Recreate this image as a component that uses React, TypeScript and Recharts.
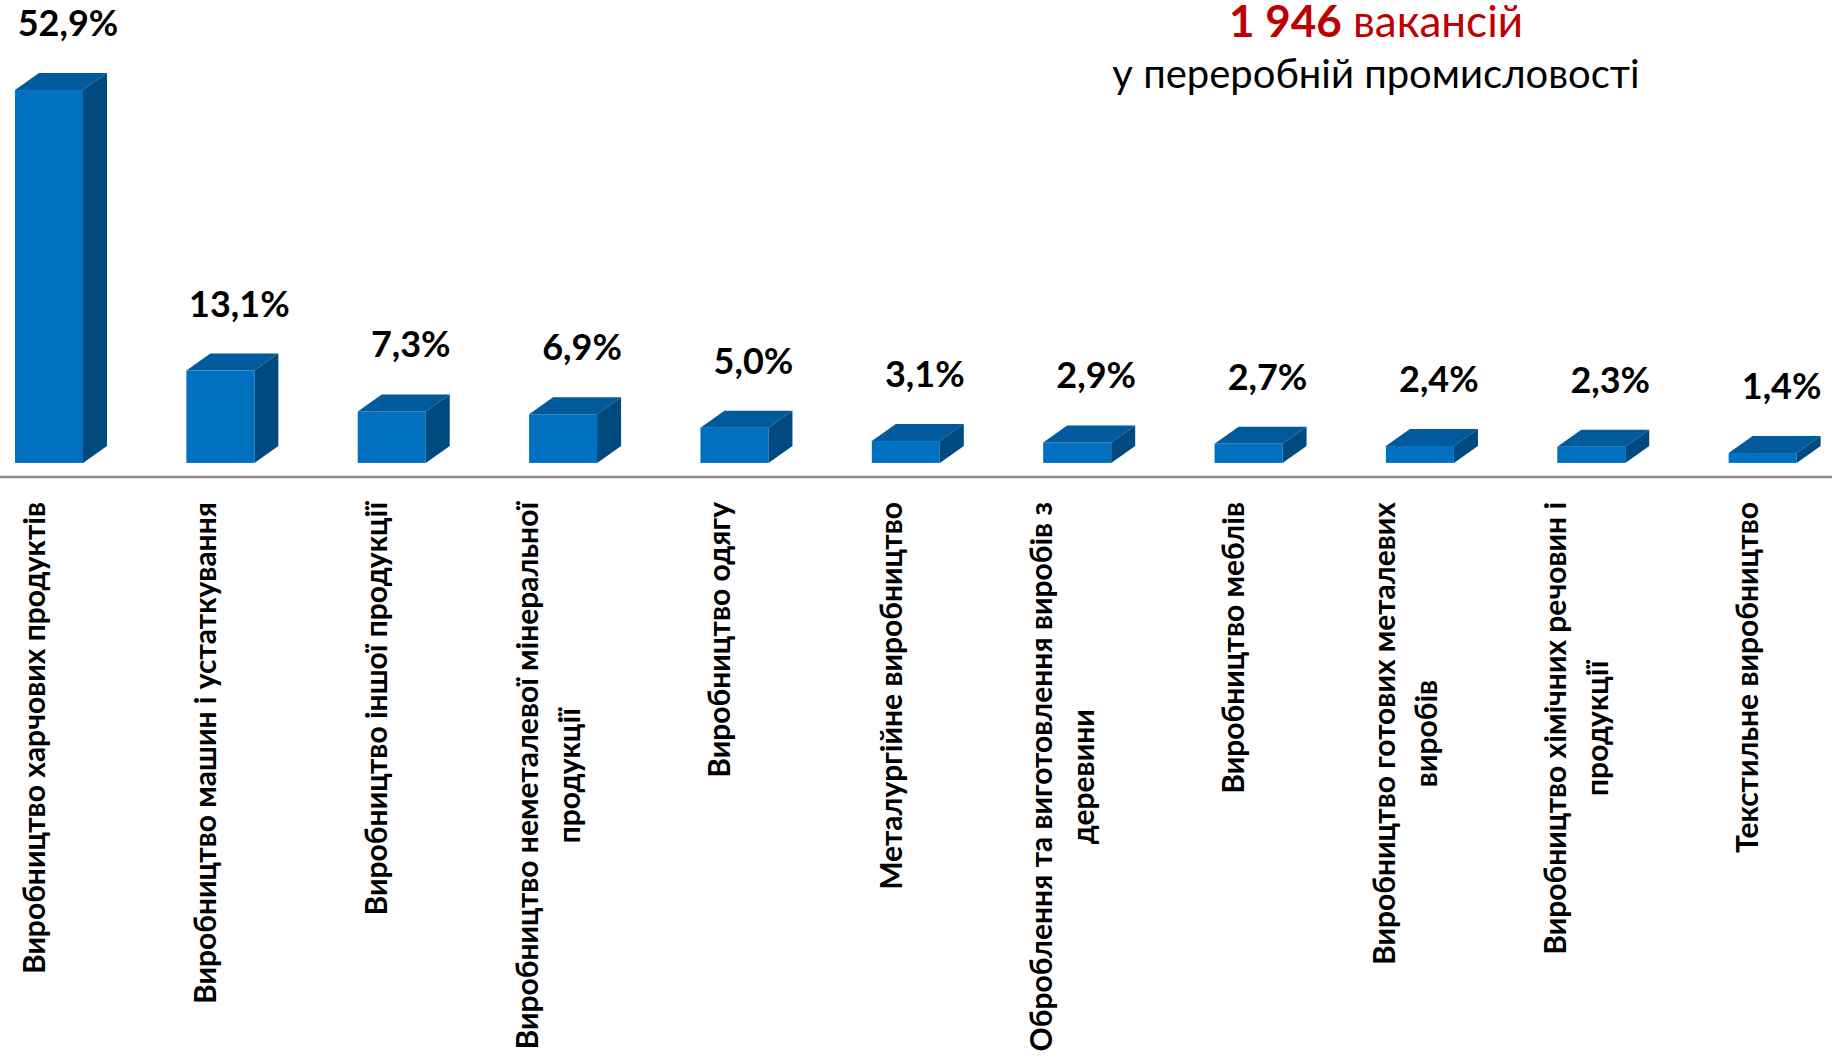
import React from 'react';
import { BarChart, Bar, XAxis, YAxis, LabelList } from 'recharts';

const categories: string[] = [
  'Виробництво харчових продуктів',
  'Виробництво машин і устаткування',
  'Виробництво іншої продукції',
  'Виробництво неметалевої мінеральної\nпродукції',
  'Виробництво одягу',
  'Металургійне виробництво',
  'Оброблення та виготовлення виробів з\nдеревини',
  'Виробництво меблів',
  'Виробництво готових металевих\nвиробів',
  'Виробництво хімічних речовин і\nпродукції',
  'Текстильне виробництво',
];

const shares: number[] = [52.9, 13.1, 7.3, 6.9, 5.0, 3.1, 2.9, 2.7, 2.4, 2.3, 1.4];

const totalVacancies = '1 946';
const titleWord = 'вакансій';
const subtitle = 'у переробній промисловості';

const data = categories.map((name, i) => ({ name, share: shares[i] }));

const FRONT = '#0070C0';
const TOP = '#005A9C';
const SIDE = '#004A80';
const DX = 24;
const DY = 17;
const SHIFT = 16;

const fmt = (v: number) => v.toFixed(1).replace('.', ',') + '%';

let canvasCtx: CanvasRenderingContext2D | null = null;
const measure = (text: string, font: string) => {
  if (!canvasCtx) {
    const c = document.createElement('canvas');
    canvasCtx = c.getContext('2d');
  }
  if (!canvasCtx) return text.length * 15;
  canvasCtx.font = font;
  return canvasCtx.measureText(text).width;
};

const Bar3D = (props: any) => {
  const { x, y, width, height } = props;
  if (height == null || width == null) return null;
  const x0 = x + SHIFT;
  const w = width;
  const yb = y + height;
  return (
    <g>
      <rect x={x0} y={y} width={w} height={height} fill={FRONT} />
      <polygon
        points={`${x0},${y} ${x0 + DX},${y - DY} ${x0 + w + DX},${y - DY} ${x0 + w},${y}`}
        fill={TOP}
      />
      <polygon
        points={`${x0 + w},${y} ${x0 + w + DX},${y - DY} ${x0 + w + DX},${yb - DY} ${x0 + w},${yb}`}
        fill={SIDE}
      />
    </g>
  );
};

const ValueLabel = (props: any) => {
  const { x, y, width, value } = props;
  return (
    <text
      x={x + width / 2 + 35}
      y={y - DY - 51}
      textAnchor="middle"
      dominantBaseline="central"
      fontFamily="Lato"
      fontWeight={700}
      fontSize={36}
      fill="#000"
    >
      {fmt(Number(value))}
    </text>
  );
};

const LABEL_FONT_SIZE = 30;
const LINE_H = 42;

const CategoryTick = (props: any) => {
  const { x, y, payload } = props;
  const lines = String(payload.value).split('\n');
  const font = `bold ${LABEL_FONT_SIZE}px Lato`;
  const maxW = Math.max(...lines.map((l) => measure(l, font)));
  const cy = y + maxW / 2;
  return (
    <g>
      {lines.map((ln, i) => (
        <text
          key={i}
          transform={`translate(${x + (i - (lines.length - 1) / 2) * LINE_H}, ${cy}) rotate(-90)`}
          textAnchor="middle"
          dominantBaseline="central"
          fontFamily="Lato"
          fontWeight={700}
          fontSize={LABEL_FONT_SIZE}
          fill="#000"
        >
          {ln}
        </text>
      ))}
    </g>
  );
};

export default function App() {
  return (
    <div style={{ position: 'absolute', left: 0, top: 0, width: 1839, height: 1058, overflow: 'hidden', background: '#fff' }}>
      <div style={{ position: 'absolute', left: -53, top: 0 }}>
        <BarChart
          width={1892}
          height={1058}
          data={data}
          margin={{ top: 40, right: 7, bottom: 0, left: 0 }}
          barCategoryGap={0}
        >
          <YAxis hide domain={[-2, 60]} allowDataOverflow />
          <XAxis
            dataKey="name"
            height={581}
            interval={0}
            tickLine={false}
            tickSize={0}
            tickMargin={25}
            axisLine={{ stroke: '#8C8C8C', strokeWidth: 2.5 }}
            tick={<CategoryTick />}
          />
          <Bar dataKey="share" barSize={68} shape={<Bar3D />} isAnimationActive={false}>
            <LabelList dataKey="share" content={<ValueLabel />} />
          </Bar>
        </BarChart>
      </div>
      <svg width={1839} height={120} style={{ position: 'absolute', left: 0, top: 0 }}>
        <text x={1376} y={37} textAnchor="middle" fontFamily="Lato" fontSize={44} fill="#C00000">
          <tspan fontWeight={700}>{totalVacancies}</tspan>
          <tspan> {titleWord}</tspan>
        </text>
        <text x={1376} y={88} textAnchor="middle" fontFamily="Lato" fontSize={40} fill="#000">
          {subtitle}
        </text>
      </svg>
    </div>
  );
}
